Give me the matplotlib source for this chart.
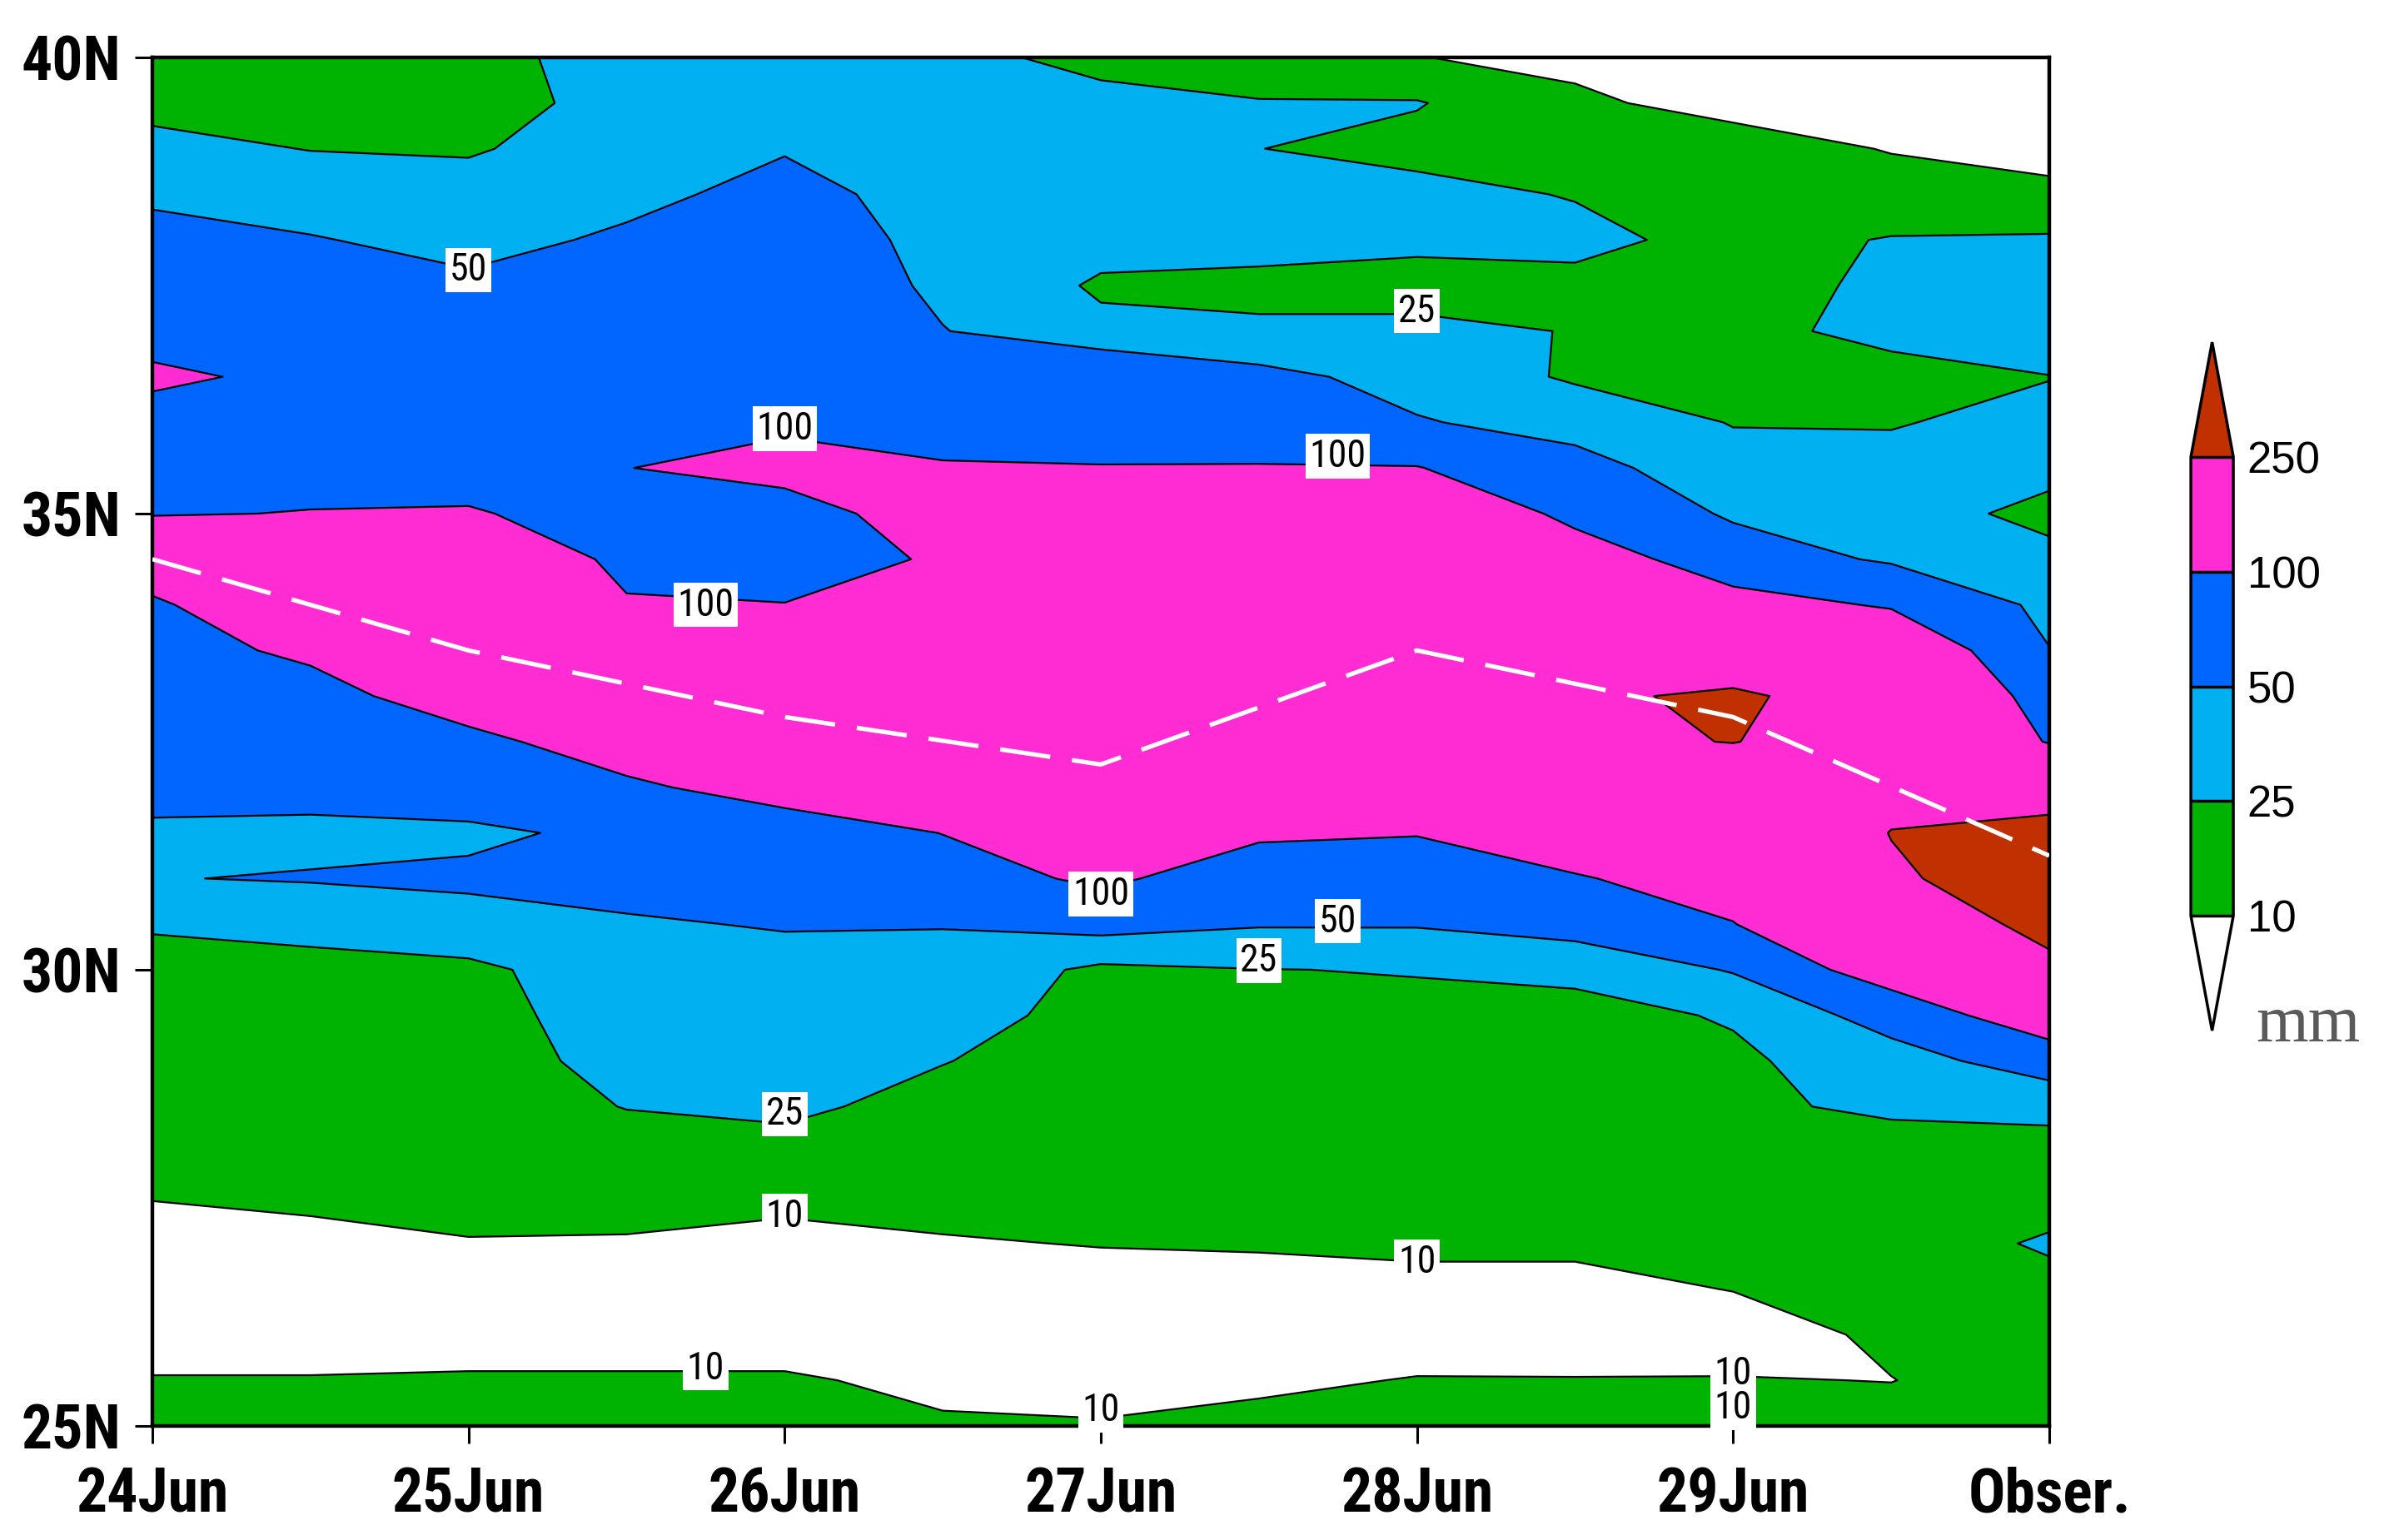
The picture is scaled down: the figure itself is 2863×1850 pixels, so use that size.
import numpy as np
import matplotlib
matplotlib.use("Agg")
import matplotlib.pyplot as plt
from matplotlib import font_manager as fm

# x axis: forecasts every 12 h from 24Jun to 29Jun, last column is the observation
days = [0, 0.5, 1, 1.5, 2, 2.5, 3, 3.5, 4, 4.5, 5, 5.5, 6]
day_ticks = [0, 1, 2, 3, 4, 5, 6]
day_labels = ['24Jun', '25Jun', '26Jun', '27Jun', '28Jun', '29Jun', 'Obser.']

# y axis: latitude from 40N down to 25N
lats = [40, 39.5, 39, 38.5, 38, 37.5, 37, 36.5, 36, 35.5, 35, 34.5, 34, 33.5, 33, 32.5,
        32, 31.5, 31, 30.5, 30, 29.5, 29, 28.5, 28, 27.5, 27, 26.5, 26, 25.5, 25]
lat_ticks = [25, 30, 35, 40]
lat_labels = ['25N', '30N', '35N', '40N']

levels = [10, 25, 50, 100, 250]
level_colors = ['white', '#00b300', '#00b0f0', '#0066ff', '#ff2cd4', '#c03000']

# accumulated rain (mm), one list per column, 40N -> 25N
rain_24_00 = [17, 20, 30, 45, 60, 70, 75, 112, 75, 80, 98, 140, 90, 80, 75, 70,
              60, 45, 49, 27, 18, 18, 17, 16, 14, 10.3, 6, 5, 6, 10.5, 13]
rain_24_12 = [17, 19, 24.5, 35, 52, 70, 80, 85, 85, 90, 101, 150, 160, 110, 80, 72,
              62, 42, 52, 30, 20, 19, 18, 17, 15, 12, 7, 5, 6, 10.5, 14]
rain_25_00 = [17, 19, 23, 33, 40, 56, 70, 80, 85, 90, 102, 160, 180, 170, 130, 85,
              65, 45, 55, 40, 20, 19, 18, 17, 15, 13, 9.5, 5, 6, 11, 15]
rain_25_12 = [35, 30, 35, 42, 55, 70, 80, 85, 92, 99, 90, 85, 105, 170, 165, 130,
              90, 56, 60, 47, 38, 33, 30, 25.5, 18, 14, 9, 5, 6, 11, 15]
rain_26_00 = [37, 40, 48, 60, 70, 75, 80, 85, 90, 120, 75, 80, 101, 170, 200, 180,
              125, 70, 60, 52, 40, 35, 32, 28, 20, 14, 5, 4, 6, 11, 15]
rain_26_12 = [30, 32, 35, 38, 40, 44, 51, 70, 85, 103, 130, 105, 120, 180, 200, 190,
              150, 101, 75, 51, 42, 32, 25.5, 20, 17, 14, 9, 4, 4, 8, 11]
rain_27_00 = [20, 30, 35, 38, 33, 22, 30, 80, 88, 101, 150, 180, 190, 200, 210, 200,
              170, 140, 110, 60, 20, 19, 18, 17, 16, 14, 10.5, 5, 4, 5, 11]
rain_27_12 = [20, 25.5, 25.2, 30, 32, 20, 28, 58, 80, 102, 150, 180, 200, 210, 220, 210,
              170, 108, 70, 52, 24.5, 20, 19, 18, 17, 15, 11, 6, 4, 8, 13]
rain_28_00 = [10.2, 26, 20, 30, 28, 20, 28, 40, 52, 102, 160, 190, 210, 220, 230, 220,
              180, 102, 75, 52, 26, 20, 19, 18, 17, 16, 12, 7, 5, 10.5, 14]
rain_28_12 = [8, 11.5, 17, 24, 30, 20, 24.5, 22, 40, 60, 85, 130, 170, 200, 235, 235,
              180, 140, 95, 62, 30, 18, 17, 18, 17, 16, 12, 7, 5, 10.4, 13]
rain_29_00 = [6, 7, 14, 17, 19, 19, 21, 21, 24, 33, 45, 70, 120, 180, 265, 252,
              190, 160, 130, 98, 52, 27, 21, 23, 19, 17, 15, 10.3, 5, 10.5, 9.5]
rain_29_12 = [5, 6, 9.5, 14, 26, 28, 29, 20, 24, 30, 33, 45, 95, 150, 200, 210,
              225, 252, 240, 190, 130, 62, 38, 27, 20, 18, 17, 15, 12, 9.8, 14]
rain_obs = [5, 6, 7, 12, 27, 35, 38, 24.5, 30, 30, 20, 30, 40, 51, 70, 95,
            220, 270, 290, 275, 230, 140, 65, 30, 18, 19, 27, 20, 17, 15, 14]

rain = np.column_stack([rain_24_00, rain_24_12, rain_25_00, rain_25_12, rain_26_00,
                        rain_26_12, rain_27_00, rain_27_12, rain_28_00, rain_28_12,
                        rain_29_00, rain_29_12, rain_obs])

# rain belt axis (white dashed line)
belt_days = [0, 1, 2, 3, 4, 5, 6]
belt_lats = [34.5, 33.5, 32.77, 32.25, 33.5, 32.77, 31.25]

# contour labels as they appear on the figure
label_days = [1.0, 4.0, 2.0, 3.75, 1.75, 3.0, 3.75, 3.5, 2.0, 2.0, 4.0, 1.75, 3.0, 5.0, 5.0]
label_lats = [37.67, 37.22, 35.93, 35.63, 34.0, 30.83, 30.53, 30.1, 28.42, 27.3, 26.8,
              25.63, 25.17, 25.57, 25.2]
label_text = ['50', '25', '100', '100', '100', '100', '50', '25', '25', '10', '10',
              '10', '10', '10', '10']

# pick a narrow sans font for the NCL-like tick labels
installed = fm.fontManager.ttflist
names = {f.name for f in installed}
if 'Liberation Sans Narrow' in names:
    tick_font = dict(family='Liberation Sans Narrow', fontstretch='normal', fontsize=54)
    lab_font = dict(family='Liberation Sans Narrow', fontstretch='normal', fontsize=34)
elif 'Roboto Condensed' in names:
    tick_font = dict(family='Roboto Condensed', fontstretch='normal', fontsize=53)
    lab_font = dict(family='Roboto Condensed', fontstretch='normal', fontsize=33)
elif any(f.name == 'DejaVu Sans' and f.stretch == 'condensed' for f in installed):
    tick_font = dict(family='DejaVu Sans', fontstretch='condensed', fontsize=46)
    lab_font = dict(family='DejaVu Sans', fontstretch='condensed', fontsize=29)
else:
    tick_font = dict(family='Roboto', fontstretch='normal', fontsize=48)
    lab_font = dict(family='Roboto', fontstretch='normal', fontsize=29)

fig = plt.figure(figsize=(28.63, 18.5), dpi=100)
ax = fig.add_axes([0.0639, 0.0741, 0.7957, 0.8886])

cf = ax.contourf(days, lats, rain, levels=levels, colors=level_colors, extend='both')
ax.contour(days, lats, rain, levels=levels, colors='black', linewidths=1.6)

ax.plot(belt_days, belt_lats, color='white', lw=3.8, dashes=(11.5, 5), zorder=4)

for d, la, t in zip(label_days, label_lats, label_text):
    ax.text(d, la, t, ha='center', va='center', **lab_font,
            bbox=dict(boxstyle='square,pad=0.1', fc='white', ec='none'), zorder=5)

ax.set_xlim(0, 6)
ax.set_ylim(25, 40)
ax.set_xticks(day_ticks)
ax.set_xticklabels(day_labels)
ax.set_yticks(lat_ticks)
ax.set_yticklabels(lat_labels)
for lab in ax.get_xticklabels() + ax.get_yticklabels():
    lab.set_family(tick_font['family'])
    lab.set_stretch(tick_font['fontstretch'])
    lab.set_fontweight('bold')
    lab.set_fontsize(tick_font['fontsize'])
ax.tick_params(axis='both', direction='out', length=15, width=2.2)
ax.tick_params(axis='x', pad=20)
ax.tick_params(axis='y', pad=12)
for sp in ax.spines.values():
    sp.set_linewidth(3.2)

# colour bar with triangular ends
cax = fig.add_axes([0.919, 0.3308, 0.0178, 0.447])
cb = fig.colorbar(cf, cax=cax, extendfrac=0.25, drawedges=True, ticks=levels)
cb.outline.set_linewidth(2.5)
cb.dividers.set_linewidth(2.5)
cb.ax.tick_params(length=0, pad=12, labelsize=38)
for lab in cb.ax.get_yticklabels():
    lab.set_family(['Liberation Sans', 'DejaVu Sans'])
fig.text(0.968, 0.324, 'mm', ha='center', va='baseline', fontsize=58,
         family=['Liberation Serif', 'DejaVu Serif'], color='#5a5a5a')

fig.savefig('out.png', dpi=100)
